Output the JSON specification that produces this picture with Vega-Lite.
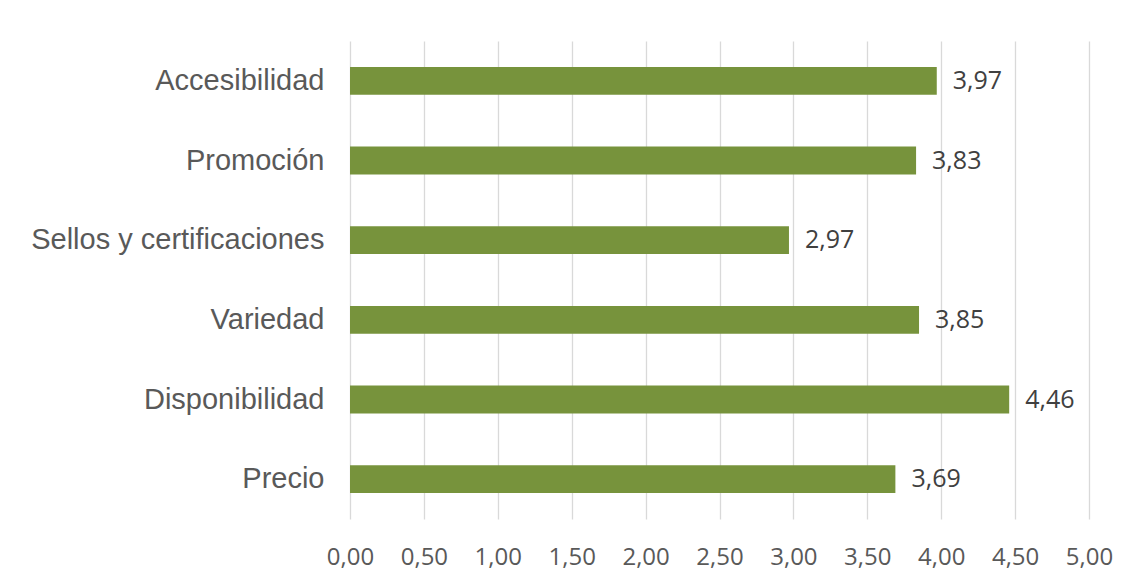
{
  "$schema": "https://vega.github.io/schema/vega-lite/v6.json",
  "width": 739,
  "height": 478,
  "autosize": {"type": "none"},
  "padding": {"left": 350, "top": 41, "right": 42, "bottom": 63},
  "background": "white",
  "config": {
    "view": {"stroke": null},
    "locale": {"number": {"decimal": ",", "thousands": ".", "grouping": [3], "currency": ["", " €"]}}
  },
  "data": {
    "values": [
      {"factor": "Accesibilidad", "valor": 3.97},
      {"factor": "Promoción", "valor": 3.83},
      {"factor": "Sellos y certificaciones", "valor": 2.97},
      {"factor": "Variedad", "valor": 3.85},
      {"factor": "Disponibilidad", "valor": 4.46},
      {"factor": "Precio", "valor": 3.69}
    ]
  },
  "encoding": {
    "y": {
      "field": "factor",
      "type": "nominal",
      "sort": null,
      "scale": {"paddingInner": 0.65, "paddingOuter": 0.325},
      "axis": {
        "title": null,
        "domain": false,
        "ticks": false,
        "grid": false,
        "labelFont": "Liberation Sans",
        "labelFontSize": 29,
        "labelColor": "#595959",
        "labelPadding": 26,
        "labelLimit": 400
      }
    },
    "x": {
      "field": "valor",
      "type": "quantitative",
      "scale": {"domain": [0, 5], "nice": false},
      "axis": {
        "title": null,
        "values": [0, 0.5, 1, 1.5, 2, 2.5, 3, 3.5, 4, 4.5, 5],
        "format": ".2f",
        "domain": false,
        "ticks": false,
        "grid": true,
        "gridColor": "#d9d9d9",
        "gridWidth": 1.3,
        "labelFont": "Open Sans",
        "labelFontSize": 24,
        "labelColor": "#595959",
        "labelPadding": 26,
        "labelFlush": false
      }
    }
  },
  "layer": [
    {
      "mark": {"type": "bar", "color": "#77933C"}
    },
    {
      "mark": {
        "type": "text",
        "align": "left",
        "baseline": "middle",
        "dx": 16,
        "font": "Open Sans",
        "fontSize": 25,
        "color": "#404040"
      },
      "encoding": {
        "text": {"field": "valor", "type": "quantitative", "format": ".2f"}
      }
    }
  ]
}
